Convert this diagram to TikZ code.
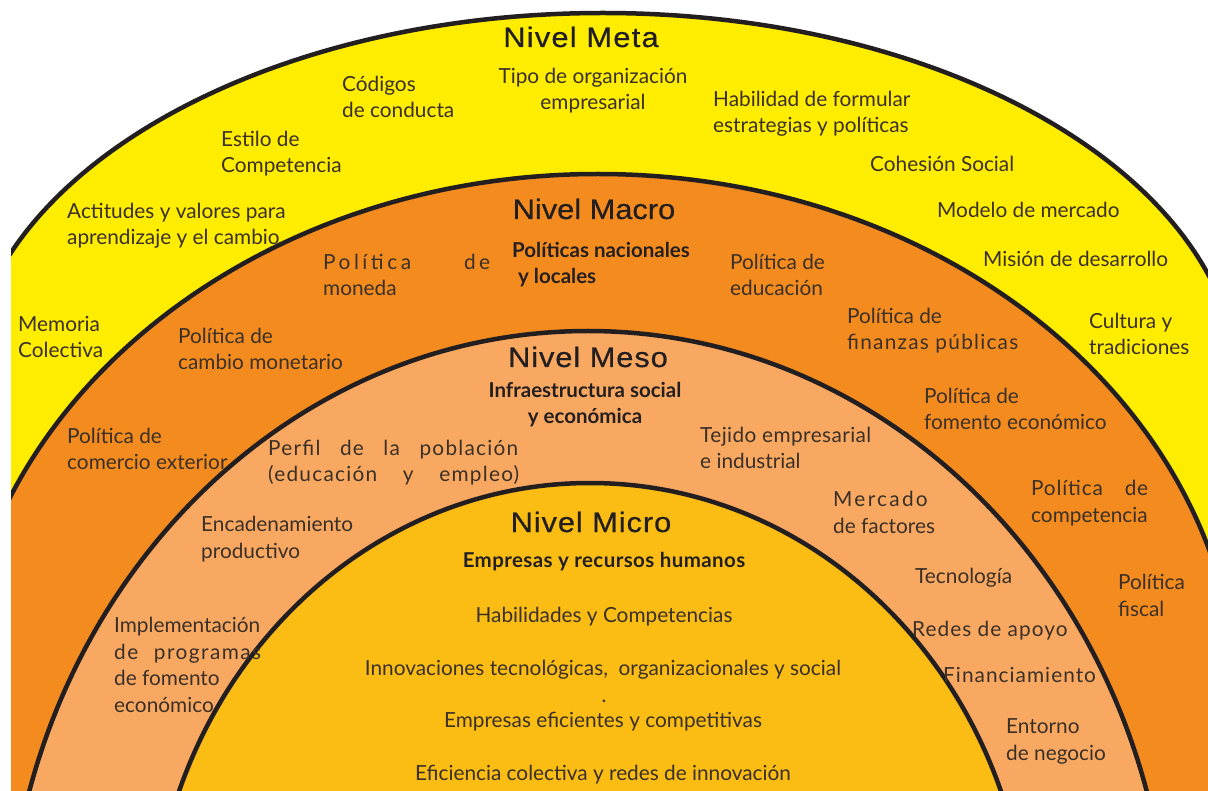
\documentclass[tikz,border=0pt]{standalone}
\usepackage{fontspec}
\setmainfont{Lato}
\newfontfamily\levelFont[FakeBold=0.6]{Liberation Sans}
\usepackage{tikz}
\definecolor{metaYellow}{RGB}{255,237,0}
\definecolor{macroOrange}{RGB}{244,139,31}
\definecolor{mesoPeach}{RGB}{248,168,96}
\definecolor{microGold}{RGB}{251,189,20}
\definecolor{lineBlack}{RGB}{35,31,32}
\definecolor{textGrey}{RGB}{58,48,40}
\newcommand{\archShape}[5]{%%
  %% One level: colour, centre x, centre y, x radius, y radius.
  \filldraw[archStyle,fill=#1] (#2-#4,-#3-900) -- (#2-#4,-#3)
    arc[start angle=180,end angle=0,x radius=#4,y radius=#5]
    -- (#2+#4,-#3-900) -- cycle;
}
\newcommand{\spread}[2]{\makebox[#1pt][s]{#2}}
\newcommand{\tracked}[2]{{\addfontfeature{LetterSpace=#1}#2}}
\newcommand{\levelName}[2]{\scalebox{1.1}[1]{\addfontfeature{LetterSpace=#1}#2}}

\begin{document}
\begin{tikzpicture}[x=1pt,y=1pt,%%
  archStyle/.style={draw=lineBlack,line width=4.5pt,line join=round},%%
  levelTitle/.style={font=\levelFont\fontsize{28}{30}\selectfont,text=lineBlack,inner sep=0,anchor=base},%%
  itemText/.style={font=\fontsize{20.8}{26.4}\selectfont,text=textGrey,inner sep=0,align=left,anchor=base west},%%
  centreText/.style={itemText,align=center,anchor=base},%%
  keyText/.style={itemText,font=\bfseries\fontsize{20.5}{26.4}\selectfont,text=lineBlack}
]
\useasboundingbox (0,0) rectangle (1208,-791);
%%
%% The four levels, from the outside in.
\begin{scope}
\clip (11,0) rectangle (1208,-791);
\archShape{metaYellow}{603}{391}{636}{378}
\archShape{macroOrange}{598}{709}{640}{535}
\archShape{mesoPeach}{588}{971}{582}{640}
\archShape{microGold}{590}{959}{439}{476}
\end{scope}
%%
%% Nivel Meta (multi-line texts sit on the baseline of their last line).
\node[levelTitle] (meta) at (581,-47) {\levelName{4}{Nivel Meta}};
\node[centreText] (tipo) at (593,-110) {Tipo de organización\\empresarial};
\node[itemText] (codigos) at (342,-118) {Códigos\\de conducta};
\node[itemText] (estilo) at (221,-173) {Estilo de\\Competencia};
\node[itemText] (actitudes) at (67,-245) {Actitudes y valores para\\aprendizaje y el cambio};
\node[itemText] (habilidad) at (713,-133) {Habilidad de formular\\estrategias y políticas};
\node[itemText] (cohesion) at (870,-172) {Cohesión Social};
\node[itemText] (modelo) at (937,-218) {Modelo de mercado};
\node[itemText] (mision) at (983,-267) {Misión de desarrollo};
\node[itemText] (cultura) at (1089,-355) {Cultura y\\tradiciones};
\node[itemText] (memoria) at (18,-358) {Memoria\\Colectiva};
%%
%% Nivel Macro.
\node[levelTitle] (macro) at (594,-219) {\levelName{0}{Nivel Macro}};
\node[keyText] (politicas) at (512,-284) {Políticas nacionales\\\hspace{6pt}y locales};
\node[itemText] (moneda) at (323,-296) {\spread{167}{\tracked{17}{Política de}}\\moneda};
\node[itemText] (educacion) at (730,-296) {Política de\\educación};
\node[itemText] (cambio) at (178,-370) {Política de\\cambio monetario};
\node[itemText] (finanzas) at (847,-350) {Política de\\\tracked{6}{finanzas públicas}};
\node[itemText] (fomento) at (924,-430) {Política de\\fomento económico};
\node[itemText] (comercio) at (67,-470) {Política de\\comercio exterior};
\node[itemText] (competencia) at (1031,-522) {\spread{117}{\tracked{4}{Política de}}\\competencia};
\node[itemText] (fiscal) at (1118,-616) {Política\\fiscal};
%%
%% Nivel Meso.
\node[levelTitle] (meso) at (588,-367) {\levelName{3}{Nivel Meso}};
\node[keyText,align=center,anchor=base] (infra) at (585,-424) {Infraestructura social\\y económica};
\node[itemText] (perfil) at (268,-482) {\spread{250}{\tracked{6}{Perfil de la población}}\\\spread{251}{\tracked{6}{(educación y empleo)}}};
\node[itemText] (tejido) at (700,-469) {\tracked{2}{Tejido empresarial}\\e industrial};
\node[itemText] (encadenamiento) at (201,-558) {Encadenamiento\\productivo};
\node[itemText] (mercado) at (833,-533) {\tracked{11}{Mercado}\\de factores};
\node[itemText] (tecnologia) at (915,-583) {Tecnología};
\node[itemText] (redes) at (912,-636) {\tracked{5}{Redes de apoyo}};
\node[itemText] (financiamiento) at (943,-682) {\tracked{5}{Financiamiento}};
\node[itemText] (entorno) at (1006,-760) {Entorno\\de negocio};
\node[itemText] (implementacion) at (114,-712) {Implementación\\\spread{147}{\tracked{7}{de programas}}\\de fomento\\económico};
%%
%% Nivel Micro.
\node[levelTitle] (micro) at (591,-532) {\levelName{3}{Nivel Micro}};
\node[keyText,anchor=base] (empresas) at (604,-567) {\tracked{2}{Empresas y recursos humanos}};
\node[centreText] (competencias) at (604,-622) {Habilidades y Competencias};
\node[centreText] (innovaciones) at (603,-675) {Innovaciones tecnológicas,\ \ organizacionales y social};
\node[centreText] (punto) at (604,-702) {.};
\node[centreText] (eficientes) at (603,-727) {Empresas eficientes y competitivas};
\node[centreText] (colectiva) at (603,-780) {Eficiencia colectiva y redes de innovación};
\end{tikzpicture}
\end{document}
